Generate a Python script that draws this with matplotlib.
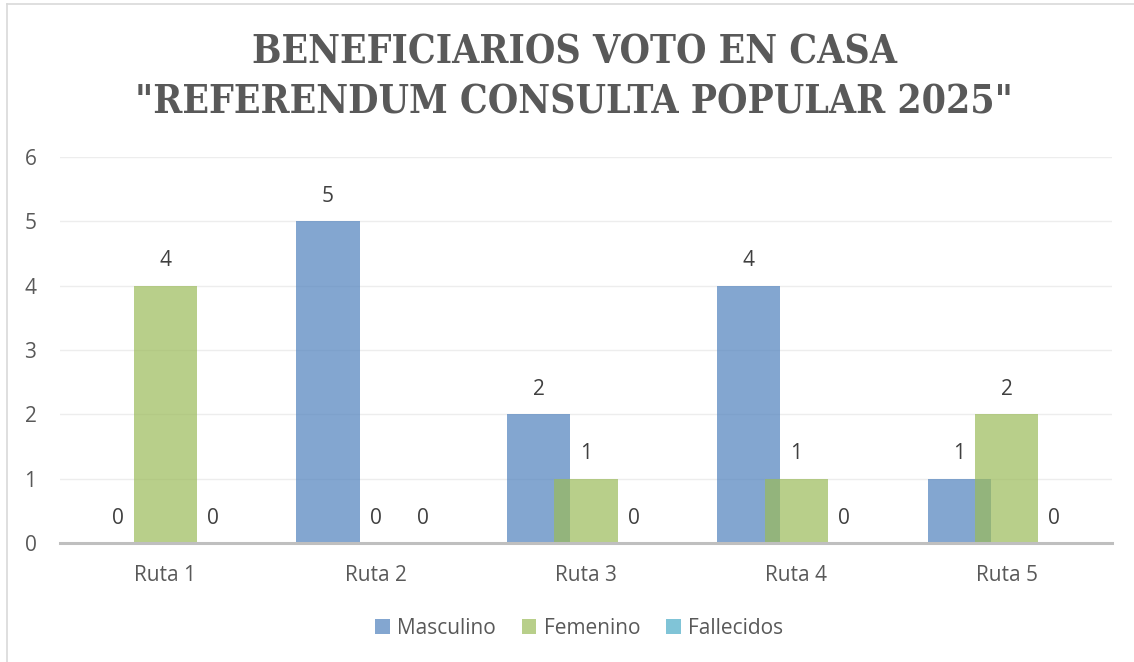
import matplotlib
matplotlib.use("Agg")
import matplotlib.pyplot as plt
import numpy as np

rutas = ["Ruta 1", "Ruta 2", "Ruta 3", "Ruta 4", "Ruta 5"]
masculino = [0, 5, 2, 4, 1]
femenino = [4, 0, 1, 1, 2]
fallecidos = [0, 0, 0, 0, 0]

TXT = "#595959"
FS = 15
plt.rcParams["font.family"] = ["Open Sans", "DejaVu Sans"]

fig = plt.figure(figsize=(11.34, 6.62), dpi=100)
ax = fig.add_axes([60 / 1134, 1 - 543 / 662, 1052 / 1134, 386 / 662])

x = np.arange(len(rutas))
w, off = 0.30, 0.226
series = [(masculino, "#4F81BD", "Masculino", -off),
          (femenino, "#9BBB59", "Femenino", 0.0),
          (fallecidos, "#4BACC6", "Fallecidos", off)]
for vals, col, lbl, dx in series:
    bars = ax.bar(x + dx, vals, w, color=col, alpha=0.7, label=lbl, zorder=2)
    for b, v in zip(bars, vals):
        ax.annotate(str(v), (b.get_x() + b.get_width() / 2, v), xytext=(0, 18),
                    textcoords="offset points", ha="center", va="center",
                    fontsize=FS, color="#404040", zorder=3)

ax.set_xlim(-0.5, len(rutas) - 0.5)
ax.set_ylim(0, 6)
ax.set_yticks(range(7))
ax.set_xticks(x)
ax.set_xticklabels(rutas)
ax.grid(axis="y", color="#EDEDED", lw=1, zorder=0)
ax.tick_params(length=0, labelsize=FS, colors=TXT)
ax.tick_params(axis="y", pad=17)
ax.tick_params(axis="x", pad=16)
for s in ("top", "right", "left"):
    ax.spines[s].set_visible(False)
ax.spines["bottom"].set_color("#BFBFBF")
ax.spines["bottom"].set_linewidth(2.2)
ax.spines["bottom"].set_zorder(4)

ax.legend(loc="center", bbox_to_anchor=(579 / 1134, 1 - 628 / 662),
          bbox_transform=fig.transFigure, ncol=3, frameon=False,
          fontsize=FS, labelcolor=TXT, handlelength=0.7, handleheight=0.7,
          columnspacing=1.25, handletextpad=0.35)

for txt, yc in (("BENEFICIARIOS VOTO EN CASA", 52),
                ('"REFERENDUM CONSULTA POPULAR 2025"', 103)):
    fig.text(574 / 1134, 1 - yc / 662, txt, ha="center", va="center",
             fontsize=28, fontweight="bold", color=TXT, family="DejaVu Serif",
             fontstretch="condensed")

# chart frame
fig.add_artist(plt.Line2D([7 / 1134, 7 / 1134], [0, 1 - 4 / 662],
                          transform=fig.transFigure, color="#D9D9D9", lw=1.2))
fig.add_artist(plt.Line2D([7 / 1134, 1], [1 - 4 / 662, 1 - 4 / 662],
                          transform=fig.transFigure, color="#D9D9D9", lw=1.2))

fig.savefig("out.png", dpi=100)
